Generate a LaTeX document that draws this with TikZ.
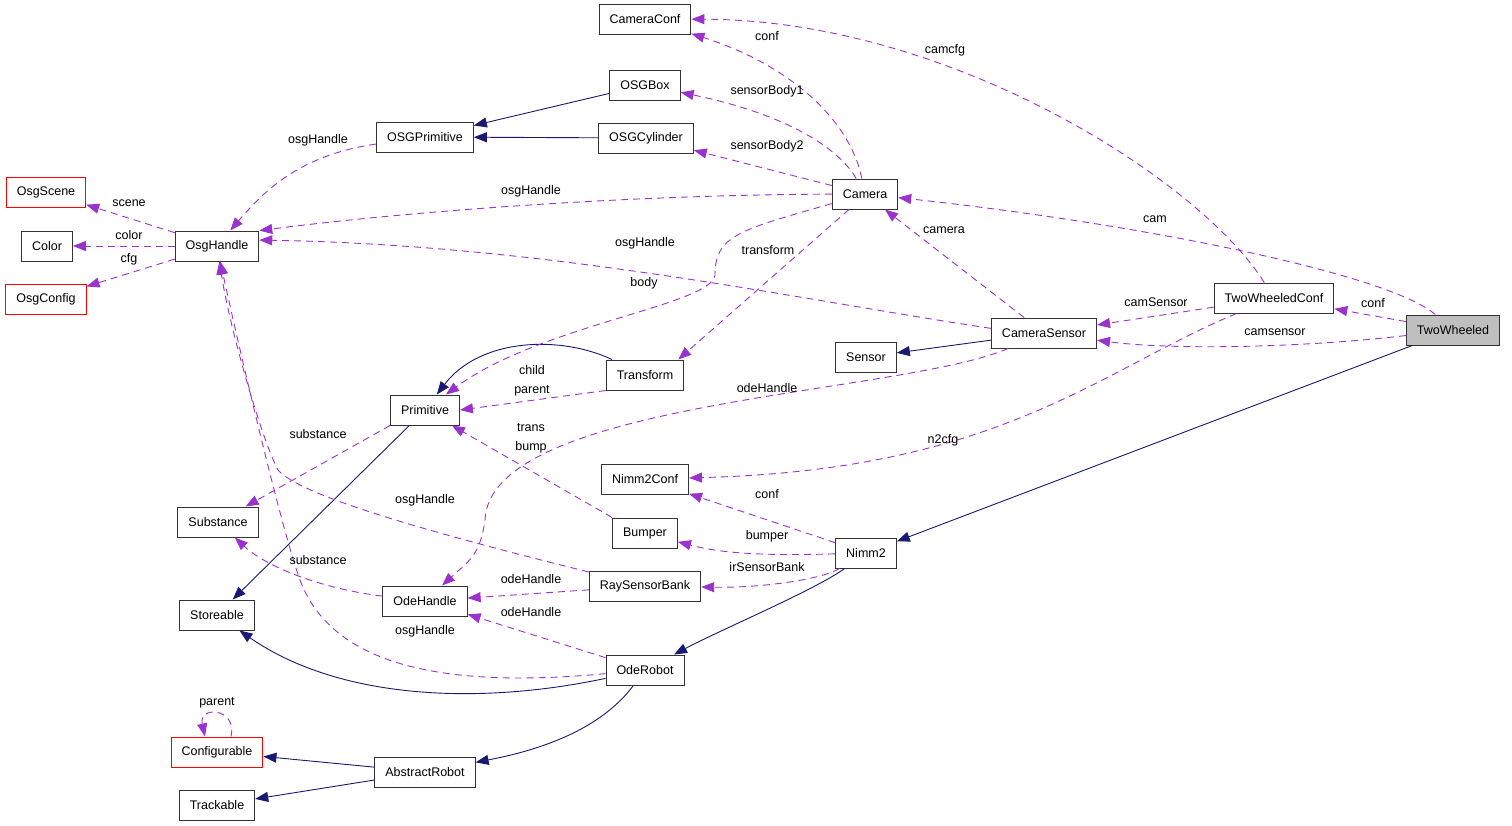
\documentclass[tikz,border=0pt]{standalone}
\usepackage{fontspec}
\setmainfont{Liberation Sans}
\usetikzlibrary{arrows.meta}
\definecolor{usecol}{HTML}{9A32CD}
\definecolor{inhcol}{HTML}{191970}
\begin{document}
\begin{tikzpicture}[x=1pt,y=-1pt,
    cls/.style={draw=black!80,line width=1pt,minimum height=30pt,inner xsep=10.5pt,font=\fontsize{12.5}{15}\selectfont},
    redcls/.style={cls,draw=red},
    lbl/.style={font=\fontsize{12.5}{19}\selectfont,inner sep=0pt,align=center},
    use/.style={draw=usecol,line width=0.9pt,dash pattern=on 7pt off 5pt,-{Triangle[length=13pt,width=10pt]}},
    inh/.style={draw=inhcol,line width=0.9pt,-{Triangle[length=13pt,width=10pt]}}]
      \useasboundingbox (0,0) rectangle (1512,825);
      \node[cls] (cameraconf) at (645,19) {CameraConf};
      \node[cls] (osgbox) at (645,85) {OSGBox};
      \node[cls] (osgprimitive) at (425,137) {OSGPrimitive};
      \node[cls] (osgcylinder) at (646,138) {OSGCylinder};
      \node[redcls] (osgscene) at (46,192) {OsgScene};
      \node[cls] (color) at (47,246) {Color};
      \node[cls] (osghandle) at (217,246) {OsgHandle};
      \node[redcls] (osgconfig) at (46,299) {OsgConfig};
      \node[cls] (camera) at (865,194) {Camera};
      \node[cls] (twowheeledconf) at (1274,298) {TwoWheeledConf};
      \node[cls,fill=black!25] (twowheeled) at (1453,330) {TwoWheeled};
      \node[cls] (camerasensor) at (1044,333) {CameraSensor};
      \node[cls] (sensor) at (866,357) {Sensor};
      \node[cls] (transform) at (645,375) {Transform};
      \node[cls] (primitive) at (425,410) {Primitive};
      \node[cls] (nimmconf) at (645,479) {Nimm2Conf};
      \node[cls] (substance) at (218,522) {Substance};
      \node[cls] (bumper) at (645,533) {Bumper};
      \node[cls] (nimm) at (866,553) {Nimm2};
      \node[cls] (raysensorbank) at (645,586) {RaySensorBank};
      \node[cls] (odehandle) at (425,601) {OdeHandle};
      \node[cls] (storeable) at (217,615) {Storeable};
      \node[cls] (oderobot) at (645,670) {OdeRobot};
      \node[redcls] (configurable) at (217,752) {Configurable};
      \node[cls] (abstractrobot) at (425,772) {AbstractRobot};
      \node[cls] (trackable) at (217,805) {Trackable};
      \draw[inh] (osgbox) -- (osgprimitive);
      \draw[inh] (osgcylinder) -- (osgprimitive);
      \draw[inh] (twowheeled) -- (nimm);
      \draw[inh] (camerasensor) -- (sensor);
      \draw[inh] (transform) .. controls (560,335) and (480,338) .. (primitive);
      \draw[inh] (primitive) -- (storeable);
      \draw[inh] (nimm) .. controls (815,590) and (720,630) .. (oderobot);
      \draw[inh] (oderobot) .. controls (480,705) and (340,700) .. (storeable);
      \draw[inh] (oderobot) .. controls (600,730) and (540,750) .. (abstractrobot);
      \draw[inh] (abstractrobot) -- (configurable);
      \draw[inh] (abstractrobot) -- (trackable);
      \draw[use] (camera) .. controls (850,120) and (790,65) .. (cameraconf);
      \draw[use] (twowheeledconf) .. controls (1200,180) and (950,20) .. (cameraconf);
      \draw[use] (camera) .. controls (840,150) and (790,115) .. (osgbox);
      \draw[use] (camera) -- (osgcylinder);
      \draw[use] (osgprimitive) .. controls (300,155) and (265,190) .. (osghandle);
      \draw[use] (camera) .. controls (600,195) and (380,215) .. (osghandle.20);
      \draw[use] (camerasensor.175) .. controls (800,300) and (550,245) .. (osghandle.8);
      \draw[use] (osghandle) -- (osgscene);
      \draw[use] (osghandle) -- (color);
      \draw[use] (osghandle) -- (osgconfig);
      \draw[use] (twowheeled) .. controls (1390,275) and (1150,225) .. (camera);
      \draw[use] (camerasensor) -- (camera);
      \draw[use] (camera) .. controls (740,230) and (715,235) .. (715,275) .. controls (712,305) and (540,325) .. (primitive);
      \draw[use] (camera.-136) -- (transform.25);
      \draw[use] (twowheeled) -- (twowheeledconf);
      \draw[use] (twowheeledconf) -- (camerasensor);
      \draw[use] (twowheeled) .. controls (1300,348) and (1170,350) .. (camerasensor);
      \draw[use] (twowheeledconf) .. controls (1100,370) and (1000,470) .. (nimmconf);
      \draw[use] (transform.south west) -- (primitive.east);
      \draw[use] (camerasensor) .. controls (900,395) and (490,400) .. (485,520) .. controls (480,555) and (470,560) .. (odehandle);
      \draw[use] (bumper.north west) -- (primitive);
      \draw[use] (primitive.south west) -- (substance);
      \draw[use] (nimm) -- (nimmconf);
      \draw[use] (nimm) .. controls (760,556) and (720,553) .. (bumper);
      \draw[use] (nimm) .. controls (820,580) and (760,588) .. (raysensorbank);
      \draw[use] (raysensorbank) .. controls (420,530) and (300,495) .. (278,470) .. controls (262,440) and (230,330) .. (osghandle);
      \draw[use] (oderobot) .. controls (430,690) and (330,660) .. (300,580) .. controls (280,525) and (235,330) .. (osghandle);
      \draw[use] (raysensorbank) -- (odehandle);
      \draw[use] (oderobot) -- (odehandle);
      \draw[use] (odehandle) .. controls (330,590) and (270,570) .. (substance);
      \draw[use] ([xshift=14pt]configurable.north) .. controls (238,708) and (198,705) .. ([xshift=-12pt]configurable.north);
      \node[lbl] (lconfa) at (767,36) {conf};
      \node[lbl] (lcamcfg) at (945,50) {camcfg};
      \node[lbl] (lbodya) at (767,91) {sensorBody1};
      \node[lbl] (lbodyb) at (767,146) {sensorBody2};
      \node[lbl] (losga) at (318,140) {osgHandle};
      \node[lbl] (losgb) at (531,191) {osgHandle};
      \node[lbl] (lscene) at (129,203) {scene};
      \node[lbl] (lcolor) at (129,235) {color};
      \node[lbl] (lcfg) at (129,259) {cfg};
      \node[lbl] (lcam) at (1155,219) {cam};
      \node[lbl] (lcamera) at (944,230) {camera};
      \node[lbl] (ltransform) at (768,250) {transform};
      \node[lbl] (losgc) at (645,243) {osgHandle};
      \node[lbl] (lbody) at (644,283) {body};
      \node[lbl] (lcamsensora) at (1156,302) {camSensor};
      \node[lbl] (lconfb) at (1373,303) {conf};
      \node[lbl] (lcamsensorb) at (1275,332) {camsensor};
      \node[lbl] (lchild) at (532,381) {child\\parent};
      \node[lbl] (lodea) at (767,388) {odeHandle};
      \node[lbl] (lsubsta) at (318,434) {substance};
      \node[lbl] (ltrans) at (531,438) {trans\\bump};
      \node[lbl] (lntcfg) at (943,440) {n2cfg};
      \node[lbl] (losgd) at (425,500) {osgHandle};
      \node[lbl] (lconfc) at (767,494) {conf};
      \node[lbl] (lbumper) at (767,536) {bumper};
      \node[lbl] (lsubstb) at (318,560) {substance};
      \node[lbl] (lirsensor) at (767,567) {irSensorBank};
      \node[lbl] (lodeb) at (531,579) {odeHandle};
      \node[lbl] (lodec) at (531,612) {odeHandle};
      \node[lbl] (losge) at (425,631) {osgHandle};
      \node[lbl] (lparent) at (217,703) {parent};
    \end{tikzpicture}
\end{document}
